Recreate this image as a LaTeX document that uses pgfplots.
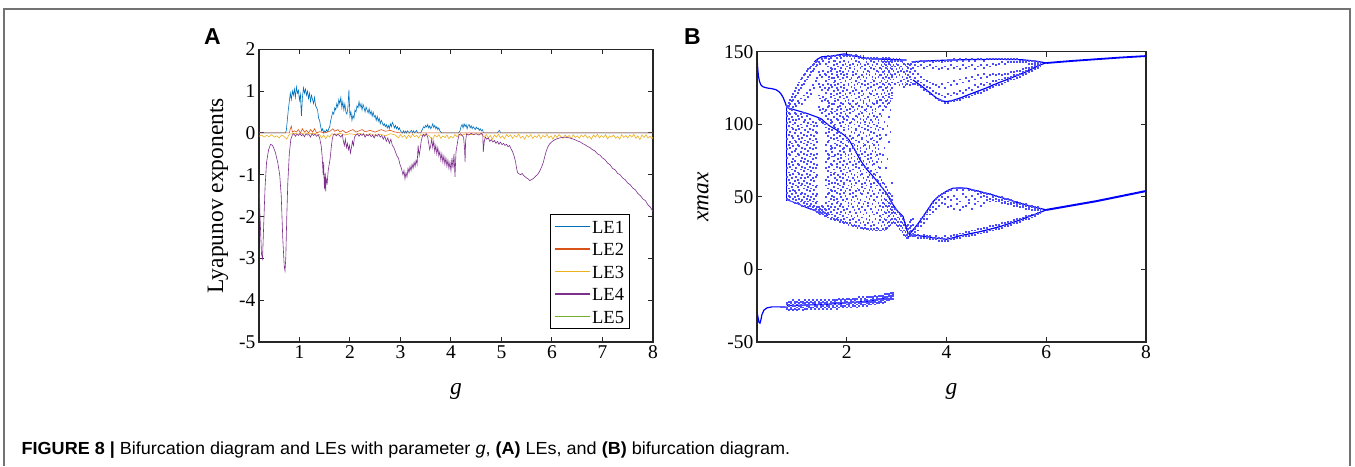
\documentclass[border=0pt]{standalone}
\usepackage{fontspec}
\setmainfont{Liberation Serif}
\newfontfamily\capfont[FakeStretch=1.03]{Liberation Sans}
\newfontfamily\letfont{Liberation Sans}
\usepackage{pgfplots}
\usepackage{pgfplotstable}
\pgfplotsset{compat=1.18}
\definecolor{cLEone}{rgb}{0,0.447,0.741}
\definecolor{cLEtwo}{rgb}{0.85,0.325,0.098}
\definecolor{cLEthree}{rgb}{0.929,0.694,0.125}
\definecolor{cLEfour}{rgb}{0.494,0.184,0.556}
\definecolor{cLEfive}{rgb}{0.466,0.674,0.188}
\definecolor{bif}{rgb}{0,0,1}
\definecolor{bifl}{rgb}{0.3,0.3,1}
\pgfplotsset{myax/.style={scale only axis,
  axis line style={line width=1.2pt, black!85},
  every tick/.style={line width=1pt, black!85},
  tick align=inside, xtick pos=both, ytick pos=both, major tick length=5pt,
  ticklabel style={font=\fontsize{19.5}{20}\selectfont},
  /pgf/number format/assume math mode=true,
  label style={font=\fontsize{23.5}{24}\selectfont},
  xlabel style={at={(axis description cs:0.5,0)}, anchor=north, yshift=-38pt},
  ylabel style={at={(axis description cs:0,0.5)}, anchor=center},
}}
\pgfplotsset{scat/.style={only marks, mark=square*, mark size=0.42pt, color=bifl, mark options={draw=none, fill=bifl}},
  bl/.style={color=bif, line width=1.2pt, no marks}}

\pgfplotstableread[header=false]{
0.80 49 53 58 64 70 77 83 90 96 101 106 109 112 113
0.83 48 51 56 62 67 73 80 86 93 99 104 108 113 115
0.86 50 54 60 65 71 79 84 88 95 102 107 111 114 117
0.89 47 52 57 63 69 74 81 87 92 98 105 110 116 119
0.92 49 55 59 66 72 76 85 91 97 100 103 112 117 121
0.95 46 50 54 61 68 75 82 89 94 101 108 114 119 123
0.98 48 53 58 64 70 78 83 88 96 103 107 113 120 125
1.01 46 51 57 62 67 73 80 86 92 99 106 116 122 127
1.04 45 49 55 60 66 72 79 85 90 97 104 115 124 129
1.07 47 52 58 63 69 75 81 88 94 100 107 118 125 131
1.10 44 48 53 59 65 71 77 84 91 98 105 114 127 132
1.13 46 50 56 61 68 74 80 87 93 102 108 120 128 134
1.16 44 47 52 58 63 70 76 83 89 96 103 117 130 135
1.19 45 49 55 60 66 73 79 86 92 99 106 122 131 137
1.22 43 47 51 57 64 69 75 82 88 95 101 119 133 138
1.25 44 48 54 59 65 71 78 84 90 97 104 124 134 139
1.28 42 45 50 56 62 68 74 80 87 93 100 121 136 140
1.31 43 47 52 58 63 70 76 83 89 96 102 127 137 141
1.34 41 44 49 55 61 67 73 79 86 92 99 125 138 142
1.37 42 46 51 57 64 70 77 84 90 95 101 130 140 143
1.40 40 43 47 52 58 65 72 80 88 94 99 132 141 144
}\rA
\pgfplotstableread[header=false]{
1.43 39 41 43 104 112 120 128 136 143
1.46 38 40 42 103 110 118 126 134 142
1.49 39 41 44 102 108 116 124 133 145
1.52 38 40 43 101 111 119 127 137 144
1.55 37 39 42 100 109 117 125 135 146
}\rB
\pgfplotstableread[header=false]{
1.58 37 41 46 50 58 62 70 74 82 86 94 98 106 110 118 122 130 134 142 146
1.61 36 39 44 52 56 64 68 76 80 88 92 100 104 112 116 124 128 136 140 147
1.64 38 42 47 53 59 61 71 77 79 89 95 97 107 113 115 125 131 133 143 145
1.67 35 40 43 49 55 65 67 73 83 85 91 101 103 109 119 121 127 137 139 146
1.70 36 38 45 51 54 60 72 78 81 84 96 102 108 111 114 126 132 135 138 147
1.73 35 41 48 50 57 66 69 75 78 90 93 99 105 114 120 123 129 132 141 144
1.76 34 37 43 54 60 63 67 79 84 87 98 100 109 116 118 127 130 138 144 147
1.79 35 39 46 49 53 62 71 73 86 91 94 104 107 110 121 125 134 136 142 146
1.82 34 36 42 47 56 59 65 76 80 89 95 97 103 112 117 124 128 133 140 148
1.85 33 38 44 52 58 64 70 74 82 85 92 101 106 113 119 122 131 137 143 147
1.88 34 40 45 50 55 61 68 77 79 88 94 99 108 111 115 126 129 135 139 146
1.91 33 37 43 48 57 63 66 72 83 87 90 102 105 114 120 123 132 136 141 148
1.94 32 35 41 53 59 60 69 75 81 84 96 98 104 109 118 125 127 134 144 147
1.97 33 39 47 51 54 65 71 78 80 86 93 100 107 112 116 121 130 138 142 148
2.00 32 36 42 49 56 62 67 73 85 89 91 103 106 110 119 124 133 135 140 147
2.03 31 38 44 46 58 64 70 76 79 88 97 99 105 115 117 127 128 137 143 148
2.06 32 34 40 52 55 61 68 74 82 83 92 101 108 111 114 122 131 139 141 147
2.09 31 37 45 48 57 59 66 77 80 90 95 98 102 113 120 126 129 132 145 148
2.12 30 35 43 50 53 63 69 72 84 87 91 104 109 112 116 123 134 136 142 147
2.15 31 36 41 47 58 62 65 75 78 86 94 100 103 110 121 125 127 138 140 146
2.18 30 33 39 51 54 60 71 73 81 89 96 97 106 114 118 124 130 135 144 148
2.21 29 37 44 49 56 64 67 76 83 85 92 102 105 111 115 128 132 137 141 147
2.24 30 34 42 46 55 61 70 74 79 88 93 99 107 113 119 122 129 133 143 146
2.27 29 32 40 48 53 65 68 77 82 84 95 101 104 109 117 126 131 139 142 147
2.30 29 36 43 52 57 59 66 72 80 90 91 98 108 112 120 123 128 134 140 146
2.33 28 33 38 45 54 63 69 75 85 87 94 103 106 115 116 121 133 136 145 147
2.36 29 31 41 47 56 60 71 78 81 86 97 100 102 110 118 127 130 138 141 146
2.39 28 35 39 50 58 62 67 73 83 89 92 104 109 111 114 124 132 135 143 145
2.42 28 32 44 46 53 64 70 76 79 88 96 99 105 113 119 125 128 137 142 146
2.45 27 34 37 49 55 61 65 74 84 85 93 101 107 116 117 122 134 136 140 145
2.48 28 30 42 51 57 59 68 77 80 90 95 98 103 112 121 126 129 139 144 146
2.51 27 33 40 45 54 63 72 75 82 87 91 102 108 110 115 123 131 133 141 145
2.54 28 31 38 48 52 60 66 73 86 89 94 100 106 114 120 127 130 138 143 146
2.57 27 35 43 47 56 65 69 78 81 84 97 104 109 111 118 124 132 135 140 145
2.60 27 29 39 50 58 62 67 74 79 88 92 99 105 115 116 121 128 137 142 146
2.63 28 32 41 46 53 61 71 76 83 86 96 101 103 112 119 125 133 136 144 145
2.66 27 34 37 44 55 59 64 70 80 90 93 98 107 113 117 126 129 134 139 145
2.69 27 30 36 41 48 51 57 62 74 91 106 117 121 126 130 134 138 141 144 145
2.72 28 33 38 43 46 53 56 60 79 97 110 115 119 124 128 132 136 140 143 146
2.75 27 31 35 40 45 49 54 59 84 102 113 118 122 127 131 135 137 142 144 145
2.78 28 29 34 39 44 48 52 57 70 93 112 116 120 125 129 133 139 141 143 146
2.81 29 32 36 41 43 47 51 55 76 99 114 117 123 126 130 134 138 140 144 145
2.84 30 33 37 40 44 46 50 53 88 105 115 119 121 128 132 136 137 142 143 146
2.87 31 34 38 42 45 48 49 52 95 110 116 118 124 127 131 135 139 141 144 145
2.90 32 35 39 41 43 46 48 51 60 118 120 122 125 129 133 134 138 140 143 144
}\rC
\pgfplotstableread[header=false]{
2.93 33 37 40 43 131 137 141 145
2.96 32 35 39 42 128 135 140 144
2.99 31 34 38 41 133 138 142 145
3.02 30 33 36 40 129 136 141 144
3.05 28 31 35 38 127 134 139 145
3.08 27 30 33 37 130 137 140 144
3.11 26 29 32 35 128 133 138 143
3.14 24 27 31 34 126 131 136 142
3.17 23 26 29 32 127 129 135 141
3.20 22 24 27 30 128 132 137 140
3.23 22 25 28 31 130 134 139 142
3.26 23 26 29 33 127 133 136 141
3.29 24 27 30 34 129 131 138 142
3.32 23 25 31 35 128 135 139 143
}\rD
\pgfplotstableread[header=false]{
3.36 141 143 128 132 137 23 24 26 28 29
3.42 140 143 127 130 135 22 24 27 30 31
3.48 141 144 126 129 133 22 23 30 33 35
3.54 139 143 124 127 131 22 24 32 35 37
3.60 140 144 123 126 130 22 23 35 38 40
3.66 141 144 121 125 129 21 23 38 41 43
3.72 139 143 120 123 128 21 22 40 43 46
3.78 140 144 118 122 127 21 23 42 46 49
3.84 138 144 117 121 126 20 22 44 48 51
3.90 139 143 116 120 128 20 22 46 50 52
3.96 140 144 115 119 125 20 23 45 49 53
4.02 138 144 115 121 129 20 22 43 50 54
4.08 141 144 116 120 127 21 23 44 48 55
4.14 139 145 116 122 130 21 24 42 51 56
4.20 140 144 117 121 128 22 24 45 49 55
4.26 138 145 117 123 131 22 25 41 47 56
4.32 141 144 118 122 129 23 25 43 52 55
4.38 139 145 119 124 132 23 26 44 50 56
4.44 140 144 119 125 130 23 26 46 48 55
4.50 141 145 120 124 133 24 27 42 51 55
4.56 138 144 121 127 131 24 27 45 49 54
4.62 140 145 122 126 134 25 28 47 52 54
4.68 141 145 122 128 132 25 28 44 50 53
4.74 139 144 123 127 135 26 29 46 51 53
4.80 141 145 124 129 133 26 29 48 50 52
4.86 140 145 125 128 134 27 30 47 49 52
4.92 142 145 126 130 135 27 30 48 50 51
4.98 141 145 127 130 134 28 31 47 49 51
5.04 142 145 127 131 135 28 31 47 48 50
5.10 143 145 128 131 134 29 32 46 48 50
5.16 142 145 129 132 135 30 32 46 47 49
5.22 143 145 130 132 135 30 33 45 47 49
5.28 143 145 131 133 136 31 33 45 46 48
5.34 143 145 131 134 136 32 34 44 46 47
5.40 143 145 132 134 137 32 35 44 45 47
5.46 143 144 133 135 137 33 35 43 45 46
5.52 143 144 134 136 138 34 36 43 44 45
5.58 143 144 135 137 139 35 37 42 44 45
5.64 142 144 136 138 139 35 37 42 43 44
5.70 142 144 137 139 140 36 38 41 43 44
5.76 142 143 138 140 141 37 38 41 42 43
5.82 142 143 139 140 141 38 39 41 42 43
5.88 141 143 140 141 142 39 40 41 42 42
}\rE
\pgfplotstableread[header=false]{
0.80 -27 -26 -24 -23
0.84 -28 -25 -24 -22
0.88 -27 -26 -23 -22
0.92 -28 -25 -24 -21
0.96 -27 -25 -23 -22
1.00 -28 -26 -24 -22
1.04 -27 -25 -23 -21
1.08 -26 -25 -24 -22
1.12 -28 -26 -23 -22
1.16 -27 -24 -23 -21
1.20 -27 -25 -24 -22
1.24 -26 -25 -23 -21
1.28 -27 -26 -24 -22
1.32 -26 -24 -23 -21
1.36 -27 -25 -23 -22
1.40 -26 -25 -24 -21
1.44 -27 -24 -23 -22
1.48 -26 -25 -23 -21
1.52 -27 -25 -24 -22
1.56 -26 -24 -23 -21
1.60 -27 -25 -23 -22
1.64 -26 -25 -24 -21
1.68 -27 -24 -23 -22
1.72 -26 -25 -23 -21
1.76 -26 -24 -22 -21
1.80 -27 -25 -23 -21
1.84 -26 -24 -23 -20
1.88 -25 -24 -22 -21
1.92 -26 -25 -23 -20
1.96 -25 -23 -22 -21
2.00 -26 -24 -22 -20
2.04 -25 -24 -23 -20
2.08 -26 -23 -22 -21
2.12 -25 -24 -22 -20
2.16 -25 -23 -21 -20
2.20 -26 -24 -22 -20
2.24 -25 -23 -22 -19
2.28 -24 -23 -21 -20
2.32 -25 -24 -22 -19
2.36 -24 -22 -21 -20
2.40 -25 -23 -21 -19
2.44 -24 -23 -22 -19
2.48 -24 -22 -21 -19
2.52 -23 -22 -20 -19
2.56 -24 -22 -21 -18
2.60 -23 -21 -20 -19
2.64 -23 -22 -20 -18
2.68 -22 -21 -20 -18
2.72 -23 -21 -19 -18
2.76 -22 -20 -19 -17
2.80 -21 -20 -19 -17
2.84 -21 -20 -18 -17
2.88 -20 -19 -18 -16
2.92 -20 -18 -17 -16
}\rF

\begin{document}
\begin{tikzpicture}[x=1pt,y=1pt]
\path[use as bounding box] (0,0) rectangle (1355,466);
\draw[black!55, line width=1.3pt] (4,0) -- (4,457) -- (1350,457) -- (1350,0);
\node[font=\letfont\bfseries\fontsize{23}{23}\selectfont, inner sep=0pt] at (212.5,429.5) {A};
\node[font=\letfont\bfseries\fontsize{23}{23}\selectfont, inner sep=0pt] at (692.5,429.5) {B};
\node[anchor=base west, inner sep=0pt, font=\capfont\fontsize{17.5}{17.5}\selectfont] at (21.5,12) {\textbf{FIGURE 8 |} Bifurcation diagram and LEs with parameter \textit{g}, \textbf{(A)} LEs, and \textbf{(B)} bifurcation diagram.};

% ---------------- Panel A ----------------
\begin{axis}[myax, at={(259pt,124pt)}, anchor=south west, width=394pt, height=292.7pt,
  xmin=0.2, xmax=8, ymin=-5, ymax=2, xtick={1,2,3,4,5,6,7,8}, ytick={-5,-4,-3,-2,-1,0,1,2},
  xlabel={\textit{g}}, ylabel={Lyapunov exponents},
  ylabel style={yshift=41pt},
  legend style={at={(0.9416,0.0444)}, anchor=south east, draw=black, line width=1pt,
    font=\fontsize{18.5}{19}\selectfont, inner sep=4pt, row sep=6.5pt,
    nodes={inner sep=1.5pt, text height=13pt, text depth=0pt}},
  legend cell align=left]
\addlegendimage{cLEone, legend image code/.code={\draw[cLEone, line width=1.6pt] (0pt,0pt) -- (35pt,0pt);}}
\addlegendimage{cLEtwo, legend image code/.code={\draw[cLEtwo, line width=1.6pt] (0pt,0pt) -- (35pt,0pt);}}
\addlegendimage{cLEthree, legend image code/.code={\draw[cLEthree, line width=1.6pt] (0pt,0pt) -- (35pt,0pt);}}
\addlegendimage{cLEfour, legend image code/.code={\draw[cLEfour, line width=1.6pt] (0pt,0pt) -- (35pt,0pt);}}
\addlegendimage{cLEfive, legend image code/.code={\draw[cLEfive, line width=1.6pt] (0pt,0pt) -- (35pt,0pt);}}
\legend{LE1,LE2,LE3,LE4,LE5}
\addplot[color=cLEone, line width=0.6pt, no marks, forget plot] coordinates {(0.2,0) (0.72,0) (0.74,0.05) (0.76,0.3) (0.78,0.55) (0.80,0.75) (0.82,0.95) (0.84,0.8) (0.86,1.0) (0.88,0.9) (0.90,1.05) (0.92,0.85) (0.94,1.1) (0.96,0.95) (0.98,1.02) (1.00,0.78) (1.02,0.92) (1.04,0.4) (1.06,0.85) (1.08,1.08) (1.10,0.95) (1.12,1.05) (1.14,0.9) (1.16,1.0) (1.18,0.82) (1.20,0.95) (1.22,0.75) (1.24,0.9) (1.26,0.8) (1.28,0.7) (1.30,0.85) (1.32,0.65) (1.34,0.6) (1.36,0.55) (1.38,0.35) (1.40,0.3) (1.42,0.15) (1.44,0.05) (1.46,0.1) (1.48,0.0) (1.50,0.05) (1.52,0.02) (1.54,0.08) (1.56,0.03) (1.58,0.1) (1.60,0.15) (1.62,0.3) (1.64,0.4) (1.66,0.5) (1.68,0.45) (1.70,0.6) (1.72,0.55) (1.74,0.7) (1.76,0.62) (1.78,0.8) (1.80,0.7) (1.82,0.85) (1.84,0.6) (1.86,0.75) (1.88,0.55) (1.90,0.7) (1.92,0.5) (1.94,0.45) (1.96,0.6) (1.98,1.03) (2.00,0.4) (2.02,0.5) (2.04,0.3) (2.06,0.42) (2.08,0.35) (2.10,0.55) (2.12,0.5) (2.14,0.65) (2.16,0.6) (2.18,0.75) (2.20,0.62) (2.22,0.7) (2.24,0.55) (2.26,0.68) (2.28,0.6) (2.30,0.5) (2.32,0.62) (2.34,0.55) (2.36,0.48) (2.38,0.58) (2.40,0.45) (2.42,0.52) (2.44,0.4) (2.46,0.5) (2.48,0.38) (2.50,0.42) (2.52,0.3) (2.54,0.4) (2.56,0.28) (2.58,0.35) (2.60,0.22) (2.62,0.3) (2.64,0.25) (2.66,0.18) (2.68,0.22) (2.70,0.15) (2.72,0.2) (2.74,0.12) (2.76,0.18) (2.78,0.1) (2.80,0.22) (2.82,0.15) (2.84,0.25) (2.86,0.2) (2.88,0.12) (2.90,0.18) (2.92,0.1) (2.94,0.15) (2.96,0.08) (2.98,0.12) (3.00,0.05) (3.02,0.02) (3.04,0) (3.06,0.05) (3.08,0) (3.10,0.04) (3.12,0) (3.14,0.05) (3.16,0.02) (3.18,0) (3.20,0.04) (3.22,0.06) (3.24,0) (3.26,0.05) (3.28,0) (3.30,0.03) (3.32,0.06) (3.34,0) (3.40,0) (3.42,0.05) (3.44,0.1) (3.46,0.15) (3.48,0.12) (3.50,0.18) (3.52,0.14) (3.54,0.2) (3.56,0.12) (3.58,0.17) (3.60,0.1) (3.62,0.15) (3.64,0.22) (3.66,0.13) (3.68,0.18) (3.70,0.1) (3.72,0.15) (3.74,0.08) (3.76,0.12) (3.78,0.05) (3.80,0.02) (3.82,0) (4.15,0) (4.18,0.05) (4.20,0.15) (4.22,0.2) (4.24,0.12) (4.26,0.22) (4.28,0.15) (4.30,0.2) (4.32,0.1) (4.34,0.18) (4.36,0.2) (4.38,0.12) (4.40,0.17) (4.42,0.1) (4.44,0.15) (4.46,0.12) (4.48,0.08) (4.50,0.14) (4.52,0.1) (4.54,0.12) (4.56,0.06) (4.58,0.1) (4.60,0.05) (4.62,0.08) (4.64,0.02) (4.66,0) (4.92,0) (4.94,0.04) (4.96,0.06) (4.98,0) (8,0)};
\addplot[color=cLEtwo, line width=0.6pt, no marks, forget plot] coordinates {(0.2,0) (0.80,0) (0.82,0.1) (0.84,0.16) (0.86,0.02) (0.90,0.05) (0.94,0.02) (0.98,0.08) (1.02,0) (1.06,0.1) (1.10,0.02) (1.14,0.06) (1.18,0) (1.22,0.08) (1.26,0.02) (1.30,0.1) (1.34,0) (1.40,0.03) (1.50,0) (1.62,0.05) (1.66,0.1) (1.70,0.04) (1.76,0.08) (1.80,0.02) (1.86,0.06) (1.92,0) (2.00,0.05) (2.06,0.08) (2.12,0.02) (2.18,0.05) (2.24,0.08) (2.30,0.03) (2.40,0.06) (2.50,0.02) (2.56,0.05) (2.62,0.08) (2.70,0.04) (2.80,0.06) (2.90,0.02) (3.0,0) (8,0)};
\addplot[color=cLEthree, line width=0.6pt, no marks, forget plot] coordinates {(0.2,-0.08) (0.25,-0.05) (0.3,-0.1) (0.35,-0.06) (0.4,-0.09) (0.45,-0.04) (0.5,-0.1) (0.55,-0.07) (0.6,-0.12) (0.65,-0.05) (0.7,-0.09) (0.75,-0.15) (0.8,-0.03) (0.9,-0.01) (1.0,-0.03) (1.1,0) (1.2,-0.02) (1.3,-0.01) (1.4,-0.04) (1.44,-0.12) (1.48,-0.05) (1.52,-0.14) (1.56,-0.06) (1.6,-0.1) (1.64,-0.02) (1.7,-0.04) (1.8,-0.01) (1.9,-0.05) (2.0,-0.02) (2.1,-0.04) (2.2,-0.01) (2.3,-0.05) (2.4,-0.02) (2.5,-0.06) (2.6,-0.03) (2.7,-0.07) (2.8,-0.02) (2.9,-0.05) (2.96,-0.12) (3.0,-0.04) (3.04,-0.1) (3.08,-0.06) (3.12,-0.13) (3.16,-0.05) (3.2,-0.11) (3.24,-0.03) (3.28,-0.09) (3.32,-0.06) (3.36,-0.12) (3.4,-0.04) (3.44,-0.08) (3.5,-0.02) (3.56,-0.06) (3.6,-0.12) (3.64,-0.15) (3.68,-0.05) (3.72,-0.1) (3.76,-0.04) (3.8,-0.13) (3.84,-0.07) (3.88,-0.11) (3.92,-0.05) (3.96,-0.14) (4.0,-0.08) (4.04,-0.12) (4.08,-0.04) (4.12,-0.09) (4.16,-0.03) (4.2,-0.06) (4.3,-0.02) (4.4,-0.04) (4.5,-0.02) (4.6,-0.03) (4.66,-0.1) (4.7,-0.04) (4.74,-0.12) (4.78,-0.06) (4.82,-0.15) (4.86,-0.05) (4.9,-0.1) (4.94,-0.03) (4.98,-0.12) (5.02,-0.07) (5.06,-0.14) (5.1,-0.04) (5.14,-0.09) (5.18,-0.05) (5.22,-0.13) (5.26,-0.06) (5.3,-0.1) (5.34,-0.03) (5.38,-0.12) (5.42,-0.08) (5.46,-0.15) (5.5,-0.05) (5.54,-0.1) (5.58,-0.04) (5.62,-0.13) (5.66,-0.07) (5.7,-0.11) (5.74,-0.04) (5.78,-0.14) (5.82,-0.06) (5.86,-0.1) (5.9,-0.03) (5.94,-0.12) (5.98,-0.07) (6.02,-0.15) (6.06,-0.05) (6.1,-0.11) (6.14,-0.04) (6.18,-0.09) (6.22,-0.13) (6.26,-0.05) (6.3,-0.1) (6.34,-0.06) (6.38,-0.14) (6.42,-0.04) (6.46,-0.11) (6.5,-0.07) (6.54,-0.13) (6.58,-0.05) (6.62,-0.1) (6.66,-0.04) (6.7,-0.12) (6.74,-0.08) (6.78,-0.15) (6.82,-0.05) (6.86,-0.1) (6.9,-0.03) (6.94,-0.12) (6.98,-0.06) (7.02,-0.11) (7.06,-0.04) (7.1,-0.14) (7.14,-0.07) (7.18,-0.1) (7.22,-0.05) (7.26,-0.13) (7.3,-0.08) (7.34,-0.15) (7.38,-0.04) (7.42,-0.11) (7.46,-0.06) (7.5,-0.12) (7.54,-0.05) (7.58,-0.1) (7.62,-0.03) (7.66,-0.13) (7.7,-0.07) (7.74,-0.16) (7.78,-0.05) (7.82,-0.11) (7.86,-0.04) (7.9,-0.12) (7.94,-0.08) (7.98,-0.14) (8.0,-0.1)};
\addplot[color=cLEfour, line width=0.6pt, no marks, forget plot] coordinates {(0.2,-1.0) (0.22,-2.0) (0.25,-2.9) (0.27,-3.0) (0.29,-2.3) (0.32,-1.3) (0.35,-0.7) (0.39,-0.4) (0.43,-0.27) (0.47,-0.3) (0.52,-0.45) (0.57,-0.7) (0.61,-1.0) (0.64,-1.5) (0.67,-2.5) (0.70,-3.2) (0.715,-3.3) (0.73,-3.0) (0.75,-2.0) (0.77,-1.2) (0.80,-0.5) (0.83,-0.15) (0.86,-0.05) (0.89,-0.02) (0.92,-0.08) (0.95,-0.03) (0.98,-0.06) (1.01,-0.01) (1.04,-0.07) (1.07,-0.03) (1.10,-0.09) (1.13,-0.02) (1.16,-0.05) (1.19,-0.04) (1.22,-0.1) (1.25,-0.02) (1.28,-0.06) (1.31,-0.03) (1.34,-0.08) (1.37,-0.04) (1.40,-0.12) (1.43,-0.3) (1.45,-0.55) (1.47,-1.0) (1.48,-0.7) (1.49,-1.2) (1.50,-1.35) (1.51,-0.95) (1.52,-1.4) (1.53,-1.1) (1.55,-1.2) (1.57,-0.9) (1.59,-0.75) (1.61,-0.6) (1.63,-0.35) (1.65,-0.15) (1.67,-0.05) (1.70,-0.02) (1.73,-0.07) (1.76,-0.03) (1.79,-0.06) (1.82,-0.1) (1.85,-0.04) (1.87,-0.2) (1.89,-0.3) (1.91,-0.15) (1.93,-0.35) (1.95,-0.25) (1.97,-0.4) (1.99,-0.3) (2.01,-0.48) (2.03,-0.35) (2.05,-0.2) (2.07,-0.3) (2.09,-0.1) (2.12,-0.05) (2.15,-0.02) (2.18,-0.08) (2.21,-0.03) (2.24,-0.06) (2.27,-0.02) (2.30,-0.1) (2.33,-0.04) (2.36,-0.07) (2.39,-0.03) (2.42,-0.09) (2.45,-0.05) (2.48,-0.12) (2.51,-0.04) (2.54,-0.08) (2.57,-0.03) (2.60,-0.1) (2.63,-0.06) (2.66,-0.15) (2.69,-0.08) (2.72,-0.2) (2.75,-0.12) (2.78,-0.25) (2.81,-0.15) (2.84,-0.3) (2.87,-0.35) (2.90,-0.45) (2.93,-0.55) (2.96,-0.6) (2.99,-0.75) (3.02,-0.85) (3.05,-1.0) (3.07,-0.9) (3.09,-1.1) (3.11,-0.95) (3.13,-1.05) (3.15,-0.85) (3.17,-0.95) (3.19,-0.8) (3.21,-0.9) (3.23,-0.75) (3.25,-0.85) (3.27,-0.7) (3.29,-0.8) (3.31,-0.65) (3.33,-0.75) (3.35,-0.3) (3.37,-0.55) (3.39,-0.4) (3.41,-0.2) (3.43,-0.1) (3.45,-0.03) (3.48,-0.08) (3.51,-0.02) (3.54,-0.1) (3.56,-0.25) (3.58,-0.4) (3.60,-0.3) (3.62,-0.15) (3.64,-0.35) (3.66,-0.2) (3.68,-0.45) (3.70,-0.3) (3.72,-0.5) (3.74,-0.35) (3.76,-0.55) (3.78,-0.45) (3.80,-0.65) (3.82,-0.5) (3.84,-0.7) (3.86,-0.55) (3.88,-0.75) (3.90,-0.6) (3.92,-0.8) (3.94,-0.65) (3.96,-0.85) (3.98,-0.7) (4.00,-0.9) (4.02,-0.6) (4.04,-0.85) (4.06,-0.5) (4.08,-1.05) (4.10,-0.45) (4.12,-0.3) (4.14,-0.15) (4.16,-0.05) (4.19,-0.02) (4.22,-0.06) (4.25,-0.1) (4.27,-0.4) (4.28,-0.7) (4.29,-0.2) (4.31,-0.02) (4.35,-0.05) (4.40,-0.01) (4.45,-0.04) (4.50,-0.02) (4.55,-0.05) (4.60,-0.01) (4.63,-0.03) (4.64,-0.45) (4.66,-0.2) (4.68,-0.1) (4.71,-0.15) (4.74,-0.12) (4.77,-0.2) (4.80,-0.16) (4.83,-0.22) (4.86,-0.18) (4.89,-0.25) (4.92,-0.2) (4.95,-0.27) (4.98,-0.22) (5.01,-0.28) (5.04,-0.25) (5.07,-0.3) (5.10,-0.27) (5.13,-0.33) (5.16,-0.3) (5.19,-0.38) (5.22,-0.45) (5.25,-0.55) (5.28,-0.7) (5.30,-0.85) (5.32,-0.95) (5.35,-0.98) (5.38,-1.0) (5.41,-0.97) (5.44,-1.02) (5.47,-1.05) (5.50,-1.08) (5.53,-1.1) (5.56,-1.14) (5.59,-1.12) (5.62,-1.1) (5.65,-1.07) (5.68,-1.03) (5.71,-1.0) (5.74,-0.95) (5.77,-0.88) (5.80,-0.8) (5.83,-0.7) (5.86,-0.55) (5.89,-0.42) (5.92,-0.33) (5.95,-0.27) (5.98,-0.23) (6.02,-0.19) (6.06,-0.16) (6.10,-0.14) (6.15,-0.12) (6.20,-0.11) (6.25,-0.1) (6.30,-0.11) (6.35,-0.12) (6.40,-0.14) (6.45,-0.16) (6.50,-0.19) (6.55,-0.21) (6.60,-0.25) (6.65,-0.28) (6.70,-0.32) (6.75,-0.35) (6.80,-0.4) (6.85,-0.43) (6.90,-0.5) (6.95,-0.53) (7.00,-0.6) (7.05,-0.64) (7.10,-0.72) (7.15,-0.76) (7.20,-0.85) (7.25,-0.88) (7.30,-0.97) (7.35,-1.0) (7.40,-1.08) (7.45,-1.12) (7.50,-1.2) (7.55,-1.24) (7.60,-1.32) (7.65,-1.36) (7.70,-1.45) (7.75,-1.5) (7.80,-1.58) (7.85,-1.62) (7.90,-1.72) (7.95,-1.78) (8.00,-1.88)};
\end{axis}

% ---------------- Panel B ----------------
\begin{axis}[myax, at={(757pt,124pt)}, anchor=south west, width=389pt, height=290.3pt,
  xmin=0.2, xmax=8, ymin=-50, ymax=150, xtick={2,4,6,8}, ytick={-50,0,50,100,150},
  xlabel={\textit{g}}, ylabel={\textit{xmax}},
  ylabel style={yshift=54pt}]
\pgfplotsinvokeforeach{1,...,14}{\addplot[scat] table[x index=0, y index=#1] {\rA};}
\pgfplotsinvokeforeach{1,...,9}{\addplot[scat] table[x index=0, y index=#1] {\rB};}
\pgfplotsinvokeforeach{1,...,20}{\addplot[scat] table[x index=0, y index=#1] {\rC};}
\pgfplotsinvokeforeach{1,...,8}{\addplot[scat] table[x index=0, y index=#1] {\rD};}
\pgfplotsinvokeforeach{1,...,10}{\addplot[scat] table[x index=0, y index=#1] {\rE};}
\pgfplotsinvokeforeach{1,...,4}{\addplot[scat] table[x index=0, y index=#1] {\rF};}
\addplot[bl] coordinates {(0.2,150) (0.205,144) (0.215,138) (0.23,133) (0.25,129.5) (0.28,127) (0.32,125.8) (0.4,125) (0.5,124.5) (0.58,123.8) (0.64,122.5) (0.69,120.5) (0.73,118) (0.77,114.5) (0.8,111.5)};
\addplot[bl] coordinates {(0.2,-42) (0.203,-30) (0.215,-32) (0.24,-36.5) (0.26,-37) (0.28,-34.5) (0.3,-31) (0.34,-28) (0.4,-26.5) (0.5,-25.8) (0.65,-25.8) (0.8,-26)};
\addplot[bl] coordinates {(0.8,-25) (1.2,-24.5) (1.6,-24) (2.0,-23) (2.4,-22) (2.7,-20.5) (2.93,-17.5)};
\addplot[bl, line width=0.9pt] coordinates {(0.8,48) (1.0,45.5) (1.2,42.5) (1.4,40) (1.5,38.5) (1.56,39.5) (1.62,37)};
\addplot[bl, line width=0.9pt] coordinates {(0.8,47) (0.8,112)};
\addplot[bl, line width=1.1pt] coordinates {(0.8,111.5) (1.0,109.5) (1.2,107.5) (1.4,105) (1.5,103.5) (1.56,101.5) (1.65,99) (1.8,96) (1.95,92.5) (2.05,89) (2.15,83) (2.27,75.4) (2.4,69) (2.53,64) (2.67,58) (2.8,52.4) (2.9,46) (3.0,41) (3.13,36.4) (3.18,30) (3.23,25) (3.3,23.5)};
\addplot[bl] coordinates {(1.35,143) (1.42,145) (1.5,146.5) (1.7,147) (1.95,148.5) (2.1,147.5) (2.3,146) (2.5,145) (2.8,144.8) (3.0,144.5) (3.2,144.2)};
\addplot[bl] coordinates {(3.3,143) (3.5,143.5) (4.0,144.2) (4.5,144.6) (5.0,144.8) (5.5,144.5) (5.8,143.5) (6.0,142.2)};
\addplot[bl] coordinates {(3.33,130.5) (3.47,127) (3.6,123.6) (3.73,120) (3.8,118) (3.93,116) (4.0,115.6) (4.13,116.5) (4.27,118) (4.4,119.8) (4.6,122.4) (4.8,125) (4.93,127) (5.1,129.3) (5.27,131.6) (5.45,134) (5.6,136.2) (5.75,138.8) (5.87,140.8) (6.0,142.4)};
\addplot[bl] coordinates {(3.2,22) (3.33,23.7) (3.6,22.6) (3.8,21.5) (4.0,20.8) (4.13,21.8) (4.27,23.2) (4.47,24.6) (4.67,26) (4.87,27.7) (5.07,29.5) (5.27,31.7) (5.47,34) (5.6,35.7) (5.74,37.5) (5.87,39.2) (6.0,41)};
\addplot[bl] coordinates {(3.25,24) (3.33,27.2) (3.43,31.5) (3.53,36.4) (3.63,41.5) (3.73,46.7) (3.83,50) (3.93,52.4) (4.03,54.5) (4.13,55.9) (4.27,56.2) (4.4,55.9) (4.53,54.8) (4.67,53.6) (4.8,52.5) (4.93,51.3) (5.1,49.5) (5.27,47.8) (5.43,46) (5.6,44.4) (5.73,43.2) (5.87,42.1) (6.0,41)};
\addplot[bl, line width=1.8pt] coordinates {(6.0,142.2) (6.5,143.6) (7.0,144.8) (7.5,146) (8.0,147)};
\addplot[bl, line width=2pt] coordinates {(6.0,41) (6.5,44) (7.0,47) (7.5,50.5) (8.0,54)};
\end{axis}
\end{tikzpicture}
\end{document}
